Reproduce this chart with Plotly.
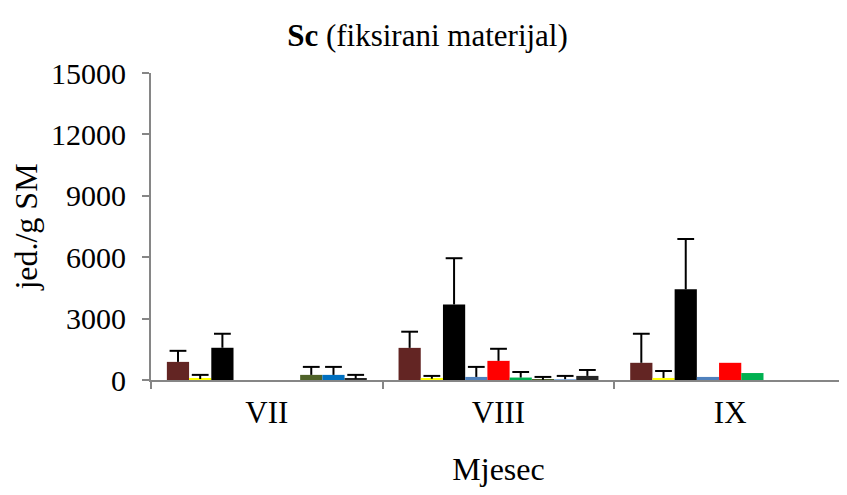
import plotly.graph_objects as go

months = ["VII", "VIII", "IX"]
y_ticks = [0, 3000, 6000, 9000, 12000, 15000]

# nine series: values and upper error (plus only); None = no bar / no error
s1 = [885, 1570, 840];    e1 = [540, 790, 1420]
s2 = [50, 60, 100];       e2 = [200, 140, 340]
s3 = [1575, 3690, 4430];  e3 = [685, 2260, 2460]
s4 = [None, 150, 150];    e4 = [None, 490, None]
s5 = [None, 935, 840];    e5 = [None, 590, None]
s6 = [None, 120, 340];    e6 = [None, 270, None]
s7 = [250, 10, None];     e7 = [390, 140, None]
s8 = [250, 40, None];     e8 = [390, 160, None]
s9 = [60, 200, None];     e9 = [190, 290, None]

series = [s1, s2, s3, s4, s5, s6, s7, s8, s9]
errors = [e1, e2, e3, e4, e5, e6, e7, e8, e9]
colors = ["#632523", "#FFFF00", "#000000", "#4F81BD", "#FF0000", "#00B050",
          "#4F6228", ["#0070C0", "#8DB4E2", "#0070C0"], "#262626"]

FONT = "Liberation Serif"
AX = "#868686"
GAP = 0.137

fig = go.Figure()
for i, (vals, errs, col) in enumerate(zip(series, errors, colors)):
    g = str(i + 1)
    fig.add_trace(go.Bar(
        x=months, y=vals, offsetgroup=g,
        marker=dict(color=col, line=dict(width=0)),
        error_y=dict(type="data", symmetric=False,
                     array=[e if e is not None else 0 for e in errs],
                     arrayminus=[0] * len(vals), color="black",
                     thickness=2, width=0),
        showlegend=False, hoverinfo="skip",
    ))
    tops = [(v + e) if (v is not None and e is not None) else None
            for v, e in zip(vals, errs)]
    fig.add_trace(go.Scatter(
        x=months, y=tops, offsetgroup=g, mode="markers",
        marker=dict(symbol="line-ew", size=12, color="black",
                    line=dict(color="black", width=2)),
        showlegend=False, hoverinfo="skip", cliponaxis=False,
    ))

W, H = 839, 487
fig.update_layout(
    width=W, height=H,
    margin=dict(l=143, r=1, t=65, b=115),
    paper_bgcolor="white", plot_bgcolor="white",
    barmode="group", bargap=GAP, bargroupgap=0,
    scattermode="group", scattergap=GAP,
    font=dict(family=FONT, size=30, color="black"),
    title=dict(text="<b>Sc</b> (fiksirani materijal)", x=0.5, xanchor="center",
               y=1 - 27 / H, yanchor="middle",
               font=dict(family=FONT, size=31, color="black")),
)
fig.update_xaxes(
    showline=True, linecolor=AX, linewidth=2, automargin=False,
    ticks="outside", tickson="boundaries", ticklen=7, tickcolor=AX, tickwidth=2,
    showgrid=False, tickfont=dict(size=31), ticklabelstandoff=4,
    title=dict(text="Mjesec", font=dict(size=32), standoff=28),
)
fig.update_yaxes(
    range=[0, 15000], tickvals=y_ticks, ticktext=[str(v) for v in y_ticks],
    showline=True, linecolor=AX, linewidth=2, automargin=False,
    ticks="outside", ticklen=7, tickcolor=AX, tickwidth=2,
    showgrid=False, zeroline=False, tickfont=dict(size=30), ticklabelstandoff=10,
    title=dict(text="jed./g SM", font=dict(size=32), standoff=6),
)

fig.write_html("out.html")
